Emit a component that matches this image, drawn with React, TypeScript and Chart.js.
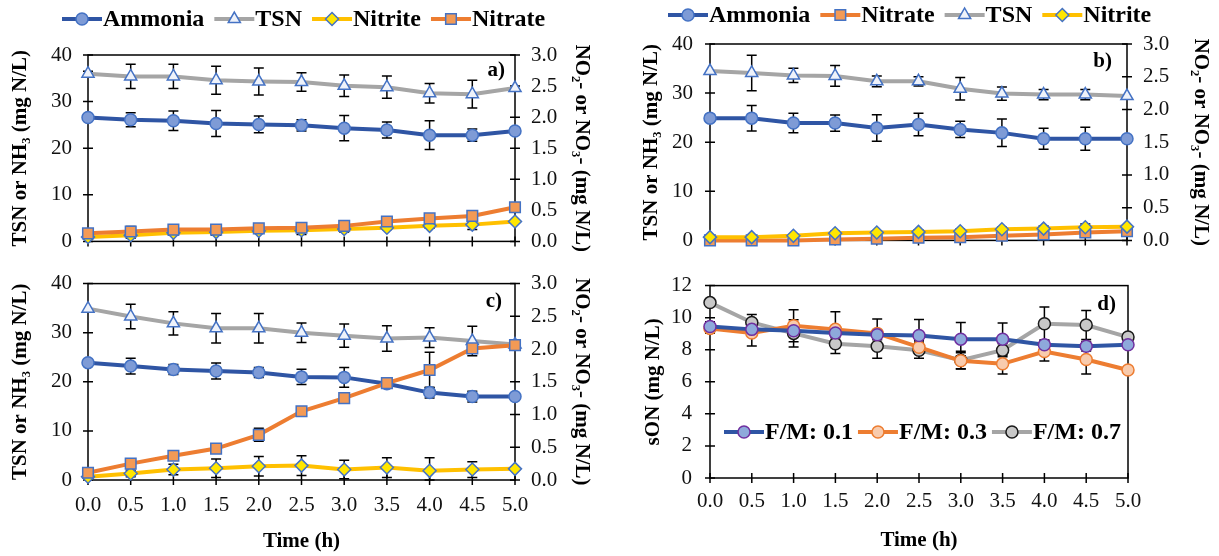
import React, { useEffect, useRef } from "react";
import { Chart, registerables } from "chart.js";
Chart.register(...registerables);

const FONT = "'Liberation Serif', 'Times New Roman', serif";

// ---------- data ----------
const times = [0, 0.5, 1, 1.5, 2, 2.5, 3, 3.5, 4, 4.5, 5];

// panel a
const ammoniaA = [26.6, 26.1, 25.9, 25.3, 25.1, 24.9, 24.3, 23.9, 22.8, 22.8, 23.7];
const ammoniaAErr = [0.5, 1.5, 2.1, 2.8, 1.8, 1.2, 2.7, 1.7, 3.1, 1.3, 0];
const tsnA = [36.0, 35.4, 35.4, 34.6, 34.3, 34.2, 33.4, 33.1, 31.8, 31.6, 32.9];
const tsnAErr = [0.5, 2.6, 2.6, 3.0, 2.9, 2.0, 2.3, 2.4, 2.1, 3.0, 0];
const nitriteA = [0.07, 0.10, 0.14, 0.15, 0.17, 0.18, 0.20, 0.22, 0.25, 0.27, 0.32];
const nitriteAErr = [0.03, 0.05, 0.04, 0.05, 0.04, 0.07, 0.05, 0.03, 0.04, 0.08, 0];
const nitrateA = [0.13, 0.16, 0.19, 0.19, 0.21, 0.22, 0.25, 0.32, 0.37, 0.41, 0.55];
const nitrateAErr = [0.05, 0.08, 0.04, 0.04, 0.04, 0.05, 0.06, 0.04, 0.05, 0.04, 0];

// panel b
const ammoniaB = [24.9, 24.9, 23.9, 23.9, 22.9, 23.6, 22.6, 21.9, 20.7, 20.7, 20.7];
const ammoniaBErr = [0, 2.6, 2.0, 1.65, 2.7, 2.3, 1.65, 2.8, 2.15, 2.35, 0];
const tsnB = [34.5, 34.1, 33.6, 33.5, 32.4, 32.4, 30.9, 29.9, 29.7, 29.7, 29.4];
const tsnBErr = [0, 3.6, 1.45, 2.1, 1.1, 0.95, 2.3, 1.35, 1.05, 1.05, 0];
const nitrateB = [0.0, 0.0, 0.0, 0.015, 0.025, 0.04, 0.05, 0.07, 0.09, 0.12, 0.14];
const nitrateBErr = [0, 0, 0, 0.03, 0.02, 0.03, 0.03, 0.04, 0.05, 0.06, 0];
const nitriteB = [0.05, 0.05, 0.07, 0.11, 0.12, 0.13, 0.14, 0.17, 0.18, 0.20, 0.21];
const nitriteBErr = [0, 0, 0.02, 0.03, 0.02, 0.03, 0.03, 0.03, 0.04, 0.05, 0];

// panel c
const ammoniaC = [23.9, 23.2, 22.5, 22.2, 21.9, 21.0, 20.9, 19.6, 17.8, 17.0, 17.0];
const ammoniaCErr = [0.3, 1.6, 1.0, 1.65, 1.0, 1.55, 2.0, 0.8, 1.1, 1.1, 0];
const tsnC = [34.9, 33.3, 31.9, 30.9, 30.9, 30.0, 29.4, 28.8, 29.0, 28.3, 27.6];
const tsnCErr = [0, 2.5, 2.35, 3.0, 3.0, 2.0, 2.35, 2.6, 2.0, 3.0, 0];
const nitrateC = [0.11, 0.25, 0.37, 0.48, 0.69, 1.05, 1.25, 1.48, 1.68, 2.01, 2.06];
const nitrateCErr = [0, 0.03, 0.03, 0.03, 0.1, 0.07, 0.03, 0.03, 0.27, 0.07, 0];
const nitriteC = [0.05, 0.10, 0.16, 0.18, 0.21, 0.22, 0.16, 0.19, 0.14, 0.16, 0.17];
const nitriteCErr = [0, 0.05, 0.08, 0.14, 0.15, 0.15, 0.14, 0.15, 0.2, 0.12, 0];

// panel d
const fm01 = [9.45, 9.27, 9.18, 9.04, 8.93, 8.89, 8.66, 8.66, 8.31, 8.22, 8.31];
const fm01Err = [0.3, 0.3, 0.3, 0.3, 0.3, 1.0, 1.04, 1.0, 0.3, 0.3, 0];
const fm03 = [9.33, 9.04, 9.5, 9.27, 9.02, 8.16, 7.31, 7.12, 7.89, 7.39, 6.74];
const fm03Err = [0.3, 0.8, 1.0, 1.1, 0.9, 0.4, 0.5, 0.63, 0.6, 0.9, 0];
const fm07 = [10.94, 9.7, 9.02, 8.37, 8.22, 7.97, 7.35, 7.97, 9.62, 9.54, 8.79];
const fm07Err = [0, 0.5, 0.85, 0.6, 0.75, 0.5, 0.55, 0.4, 1.04, 0.9, 0];

// ---------- styles ----------
type St = { line: string; marker: string; r: number; fill: string; border: string };
const ST: Record<string, St> = {
  ammonia: { line: "#2F55A4", marker: "circle", r: 6, fill: "#7E9BD6", border: "#4472C4" },
  tsn: { line: "#A5A5A5", marker: "triangle", r: 7, fill: "#EEF2FA", border: "#4472C4" },
  nitrite: { line: "#FFC000", marker: "rectRot", r: 6.5, fill: "#FFE600", border: "#4472C4" },
  nitrate: { line: "#ED7D31", marker: "rect", r: 7.5, fill: "#F39A55", border: "#4472C4" },
  fm01: { line: "#2F55A4", marker: "circle", r: 6, fill: "#8EA9DB", border: "#7030A0" },
  fm03: { line: "#ED7D31", marker: "circle", r: 6, fill: "#F8CBAD", border: "#ED7D31" },
  fm07: { line: "#A5A5A5", marker: "circle", r: 6, fill: "#C8C8C8", border: "#1A1A1A" },
};

function ds(label: string, values: number[], errors: number[], st: St, yAxisID = "y") {
  return {
    label,
    data: values.map((v, i) => ({ x: times[i], y: v })),
    errors,
    yAxisID,
    borderColor: st.line,
    backgroundColor: st.fill,
    borderWidth: 4,
    pointStyle: st.marker,
    pointRadius: st.r,
    pointBackgroundColor: st.fill,
    pointBorderColor: st.border,
    pointBorderWidth: 1.5,
    tension: 0,
    fill: false,
    clip: false,
  };
}

function drawMarker(ctx: CanvasRenderingContext2D, st: St, x: number, y: number) {
  const r = st.r;
  ctx.beginPath();
  if (st.marker === "circle") ctx.arc(x, y, r, 0, Math.PI * 2);
  else if (st.marker === "triangle") {
    for (let k = 0; k < 3; k++) {
      const a = (k * 2 * Math.PI) / 3;
      const px = x + Math.sin(a) * r, py = y - Math.cos(a) * r;
      if (k === 0) ctx.moveTo(px, py); else ctx.lineTo(px, py);
    }
    ctx.closePath();
  } else if (st.marker === "rectRot") {
    ctx.moveTo(x, y - r); ctx.lineTo(x + r, y); ctx.lineTo(x, y + r); ctx.lineTo(x - r, y); ctx.closePath();
  } else {
    const s = r * Math.SQRT1_2;
    ctx.rect(x - s, y - s, 2 * s, 2 * s);
  }
  ctx.fillStyle = st.fill; ctx.fill();
  ctx.lineWidth = 1.5; ctx.strokeStyle = st.border; ctx.stroke();
}

const decorPlugin = {
  id: "decor",
  beforeDatasetsDraw(chart: any) {
    const ctx = chart.ctx as CanvasRenderingContext2D;
    const ca = chart.chartArea;
    ctx.save();
    ctx.strokeStyle = "#000";
    ctx.lineWidth = 1.5;
    ctx.strokeRect(ca.left, ca.top, ca.right - ca.left, ca.bottom - ca.top);
    // crossing tick marks
    Object.values(chart.scales).forEach((s: any) => {
      ctx.beginPath();
      s.ticks.forEach((t: any) => {
        const p = s.getPixelForValue(t.value);
        if (s.axis === "y") {
          const x = s.position === "left" ? ca.left : ca.right;
          ctx.moveTo(x - 5, p); ctx.lineTo(x + 5, p);
        } else {
          ctx.moveTo(p, ca.bottom - 5); ctx.lineTo(p, ca.bottom + 5);
        }
      });
      ctx.stroke();
    });
    // error bars
    chart.data.datasets.forEach((d: any, i: number) => {
      if (!d.errors) return;
      const meta = chart.getDatasetMeta(i);
      const xs = chart.scales[meta.xAxisID], ys = chart.scales[meta.yAxisID];
      ctx.beginPath();
      d.data.forEach((p: any, j: number) => {
        const e = d.errors[j];
        if (!e) return;
        const x = xs.getPixelForValue(p.x);
        const y1 = ys.getPixelForValue(p.y + e);
        const y2 = ys.getPixelForValue(Math.max(0, p.y - e));
        ctx.moveTo(x, y1); ctx.lineTo(x, y2);
        ctx.moveTo(x - 5, y1); ctx.lineTo(x + 5, y1);
        ctx.moveTo(x - 5, y2); ctx.lineTo(x + 5, y2);
      });
      ctx.stroke();
    });
    ctx.restore();
  },
};

function overlayPlugin(cfg: { legend: { x: number; y: number; gap: number; items: [string, St][] }; tag: { text: string; inset: number; dy: number } }) {
  return {
    id: "overlay",
    afterDraw(chart: any) {
      const ctx = chart.ctx as CanvasRenderingContext2D;
      const ca = chart.chartArea;
      ctx.save();
      ctx.font = `bold 24px ${FONT}`;
      ctx.textBaseline = "middle";
      ctx.textAlign = "left";
      let x = cfg.legend.x;
      const y = cfg.legend.y;
      cfg.legend.items.forEach(([label, st]) => {
        ctx.beginPath();
        ctx.strokeStyle = st.line; ctx.lineWidth = 4;
        ctx.moveTo(x, y); ctx.lineTo(x + 40, y); ctx.stroke();
        drawMarker(ctx, st, x + 20, y);
        ctx.fillStyle = "#000";
        ctx.fillText(label, x + 41, y + 1);
        x += 41 + ctx.measureText(label).width + cfg.legend.gap;
      });
      ctx.font = `bold 21px ${FONT}`;
      ctx.textAlign = "right";
      ctx.fillStyle = "#000";
      ctx.fillText(cfg.tag.text, ca.right - cfg.tag.inset, ca.top + cfg.tag.dy);
      ctx.restore();
    },
  };
}

const tickFont = { size: 21, family: FONT };
const titleFont = { size: 21, family: FONT, weight: "bold" as const };

function yAxis(max: number, step: number, title: string, pos: string, w: number, titlePad: number, tickPad: number, fixed = false) {
  return {
    type: "linear",
    position: pos,
    min: 0,
    max,
    ticks: {
      stepSize: step,
      padding: tickPad,
      color: "#111",
      font: tickFont,
      callback: (v: any) => (fixed ? Number(v).toFixed(1) : String(v)),
    },
    grid: { display: false, drawTicks: false },
    border: { display: false },
    title: { display: true, text: title, color: "#000", font: titleFont, padding: { top: titlePad, bottom: 0 } },
    afterFit: (s: any) => { s.width = w; },
  };
}

function xAxis(h: number, labels: boolean, tickPad: number, titlePad: number) {
  return {
    type: "linear",
    min: 0,
    max: 5,
    ticks: {
      display: labels,
      stepSize: 0.5,
      autoSkip: false,
      maxRotation: 0,
      padding: tickPad,
      color: "#111",
      font: tickFont,
      callback: (v: any) => Number(v).toFixed(1),
    },
    grid: { display: false, drawTicks: false },
    border: { display: false },
    title: { display: labels, text: "Time (h)", color: "#000", font: titleFont, padding: { top: 0, bottom: titlePad } },
    afterFit: (s: any) => { s.height = h; },
  };
}

function baseOptions(scales: any, padTop: number, padRight = 0) {
  return {
    responsive: false,
    animation: false,
    devicePixelRatio: 1,
    events: [],
    layout: { padding: { top: padTop, right: padRight, left: 0, bottom: 0 } },
    plugins: { legend: { display: false }, tooltip: { enabled: false } },
    scales,
  };
}

const LEFT_TITLE = "TSN or NH₃ (mg N/L)";
const RIGHT_TITLE = "NO₂- or NO₃- (mg N/L)";

function configA() {
  return {
    type: "line",
    data: {
      datasets: [
        ds("Nitrate", nitrateA, nitrateAErr, ST.nitrate, "y1"),
        ds("Nitrite", nitriteA, nitriteAErr, ST.nitrite, "y1"),
        ds("Ammonia", ammoniaA, ammoniaAErr, ST.ammonia),
        ds("TSN", tsnA, tsnAErr, ST.tsn),
      ],
    },
    options: baseOptions({
      x: xAxis(18, false, 0, 0),
      y: yAxis(40, 10, LEFT_TITLE, "left", 88, 8, 16),
      y1: yAxis(3, 0.5, RIGHT_TITLE, "right", 95, 16, 16, true),
    }, 55),
    plugins: [decorPlugin, overlayPlugin({
      legend: { x: 62, y: 19, gap: 10, items: [["Ammonia", ST.ammonia], ["TSN", ST.tsn], ["Nitrite", ST.nitrite], ["Nitrate", ST.nitrate]] },
      tag: { text: "a)", inset: 10, dy: 16 },
    })],
  };
}

function configB() {
  return {
    type: "line",
    data: {
      datasets: [
        ds("Nitrite", nitriteB, nitriteBErr, ST.nitrite, "y1"),
        ds("Nitrate", nitrateB, nitrateBErr, ST.nitrate, "y1"),
        ds("Ammonia", ammoniaB, ammoniaBErr, ST.ammonia),
        ds("TSN", tsnB, tsnBErr, ST.tsn),
      ],
    },
    options: baseOptions({
      x: xAxis(22, false, 0, 0),
      y: yAxis(40, 10, LEFT_TITLE, "left", 100, 29, 17),
      y1: yAxis(3, 0.5, RIGHT_TITLE, "right", 92, 6, 16, true),
    }, 44),
    plugins: [decorPlugin, overlayPlugin({
      legend: { x: 58, y: 15, gap: 10, items: [["Ammonia", ST.ammonia], ["Nitrate", ST.nitrate], ["TSN", ST.tsn], ["Nitrite", ST.nitrite]] },
      tag: { text: "b)", inset: 15, dy: 18 },
    })],
  };
}

function configC() {
  return {
    type: "line",
    data: {
      datasets: [
        ds("Nitrate", nitrateC, nitrateCErr, ST.nitrate, "y1"),
        ds("Ammonia", ammoniaC, ammoniaCErr, ST.ammonia),
        ds("Nitrite", nitriteC, nitriteCErr, ST.nitrite, "y1"),
        ds("TSN", tsnC, tsnCErr, ST.tsn),
      ],
    },
    options: baseOptions({
      x: xAxis(76, true, 13, 2),
      y: yAxis(40, 10, LEFT_TITLE, "left", 88, 8, 16),
      y1: yAxis(3, 0.5, RIGHT_TITLE, "right", 95, 16, 16, true),
    }, 15),
    plugins: [decorPlugin, overlayPlugin({
      legend: { x: 0, y: -100, gap: 0, items: [] },
      tag: { text: "c)", inset: 13, dy: 18 },
    })],
  };
}

function configD() {
  return {
    type: "line",
    data: {
      datasets: [
        ds("F/M: 0.1", fm01, fm01Err, ST.fm01),
        ds("F/M: 0.3", fm03, fm03Err, ST.fm03),
        ds("F/M: 0.7", fm07, fm07Err, ST.fm07),
      ],
    },
    options: baseOptions({
      x: xAxis(78, true, 11, 3),
      y: yAxis(12, 2, "sON (mg N/L)", "left", 100, 31, 18),
    }, 13, 91),
    plugins: [decorPlugin, overlayPlugin({
      legend: { x: 114, y: 177, gap: 5, items: [["F/M: 0.1", ST.fm01], ["F/M: 0.3", ST.fm03], ["F/M: 0.7", ST.fm07]] },
      tag: { text: "d)", inset: 12, dy: 19 },
    })],
  };
}

function Panel(props: { left: number; top: number; width: number; height: number; build: () => any }) {
  const ref = useRef<HTMLCanvasElement>(null);
  useEffect(() => {
    const chart = new Chart(ref.current as HTMLCanvasElement, props.build());
    return () => chart.destroy();
  }, []);
  return (
    <canvas
      ref={ref}
      width={props.width}
      height={props.height}
      style={{ position: "absolute", left: props.left, top: props.top, width: props.width, height: props.height }}
    />
  );
}

export default function App() {
  return (
    <div style={{ position: "absolute", left: 0, top: 0, width: 1219, height: 556, background: "#fff", overflow: "hidden" }}>
      <Panel left={0} top={0} width={610} height={270} build={configA} />
      <Panel left={610} top={0} width={609} height={270} build={configB} />
      <Panel left={0} top={255} width={610} height={301} build={configC} />
      <Panel left={610} top={255} width={609} height={301} build={configD} />
    </div>
  );
}
